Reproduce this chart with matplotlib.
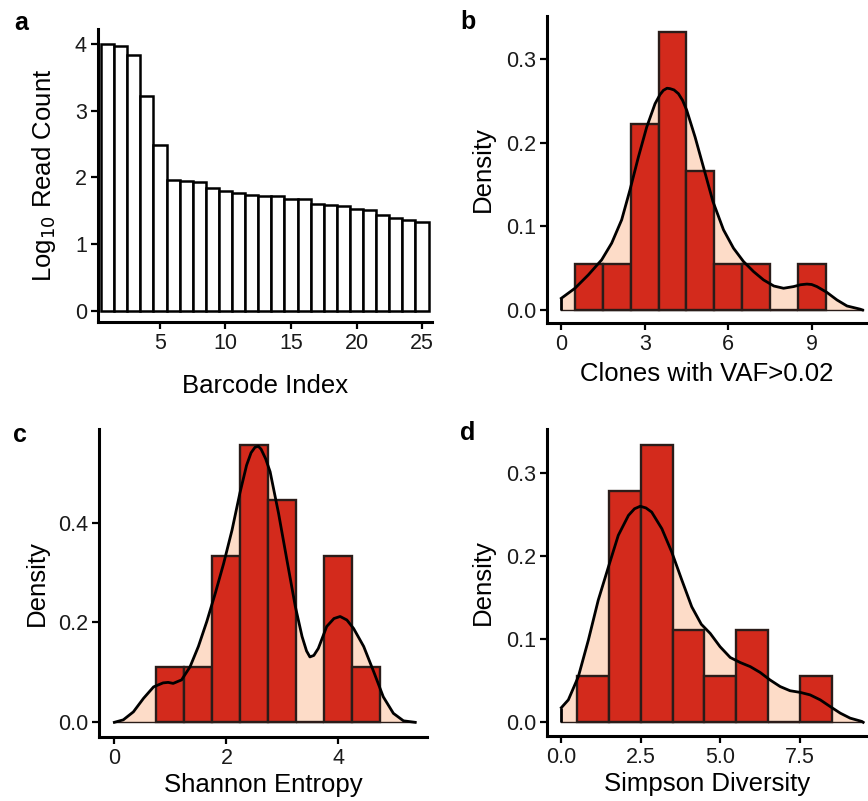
import numpy as np
import matplotlib
matplotlib.use("Agg")
import matplotlib.pyplot as plt

plt.rcParams['font.family'] = ['Liberation Sans', 'DejaVu Sans']

# ---------------- data ----------------
# panel a
barcode_index = list(range(1, 26))
log10_reads = [4.00, 3.975, 3.845, 3.22, 2.49, 1.965, 1.94, 1.93, 1.835, 1.795,
               1.77, 1.74, 1.725, 1.725, 1.68, 1.68, 1.596, 1.58, 1.57, 1.53,
               1.516, 1.44, 1.39, 1.357, 1.33]

# panel b: histogram (binwidth 1) counts and density curve
b_bin_centers = [1, 2, 3, 4, 5, 6, 7, 8, 9]
b_counts = [1, 1, 4, 6, 3, 1, 1, 0, 1]
b_kde_x = [0.0, 0.49, 0.97, 1.45, 1.81, 2.17, 2.47, 2.77, 3.07, 3.37, 3.55, 3.67,
           3.80, 3.91, 4.05, 4.21, 4.36, 4.51, 4.81, 5.11, 5.45, 5.83, 6.19,
           6.55, 6.91, 7.27, 7.64, 7.99, 8.35, 8.6, 8.83, 9.0, 9.19, 9.55, 9.91,
           10.27, 10.74, 10.83]
b_kde_y = [0.014, 0.026, 0.042, 0.060, 0.080, 0.108, 0.144, 0.183, 0.219, 0.247,
           0.258, 0.263, 0.2655, 0.265, 0.2635, 0.259, 0.251, 0.239, 0.207,
           0.171, 0.130, 0.096, 0.074, 0.058, 0.046, 0.036, 0.0287, 0.026, 0.028,
           0.0302, 0.031, 0.0305, 0.028, 0.021, 0.012, 0.0048, 0.001, 0.0]

# panel c: histogram (binwidth 0.5)
c_bin_centers = [1.0, 1.5, 2.0, 2.5, 3.0, 3.5, 4.0, 4.5]
c_counts = [1, 1, 3, 5, 4, 0, 3, 1]
c_kde_x = [0.0, 0.16, 0.34, 0.52, 0.70, 0.87, 0.96, 1.05, 1.20, 1.35, 1.50, 1.65,
           1.80, 1.95, 2.10, 2.24, 2.36, 2.44, 2.51, 2.57, 2.62, 2.70, 2.78, 2.93,
           3.08, 3.23, 3.35, 3.43, 3.49, 3.56, 3.64, 3.79, 3.92, 4.03, 4.15,
           4.27, 4.45, 4.63, 4.80, 4.98, 5.16, 5.37]
c_kde_y = [0.0, 0.005, 0.021, 0.048, 0.071, 0.079, 0.080, 0.078, 0.085, 0.111,
           0.152, 0.202, 0.258, 0.318, 0.385, 0.459, 0.515, 0.540, 0.551, 0.553,
           0.547, 0.528, 0.502, 0.419, 0.325, 0.232, 0.172, 0.143, 0.131, 0.134,
           0.148, 0.192, 0.208, 0.212, 0.205, 0.188, 0.152, 0.101, 0.051, 0.018,
           0.003, 0.0]

# panel d: histogram (binwidth 1)
d_bin_centers = [1, 2, 3, 4, 5, 6, 7, 8]
d_counts = [1, 5, 6, 2, 1, 2, 0, 1]
d_kde_x = [0.0, 0.22, 0.535, 0.85, 1.16, 1.48, 1.79, 2.11, 2.30, 2.48, 2.66, 2.84,
           3.16, 3.47, 3.79, 4.10, 4.40, 4.68, 4.99, 5.31, 5.62, 5.94, 6.25,
           6.56, 6.88, 7.19, 7.51, 7.82, 8.14, 8.45, 8.77, 9.08, 9.45, 9.49]
d_kde_y = [0.0176, 0.027, 0.055, 0.099, 0.147, 0.187, 0.225, 0.249, 0.257, 0.260,
           0.258, 0.253, 0.233, 0.205, 0.171, 0.139, 0.118, 0.107, 0.091, 0.078,
           0.072, 0.067, 0.060, 0.051, 0.043, 0.038, 0.036, 0.033, 0.027, 0.019,
           0.011, 0.005, 0.001, 0.0]

# ---------------- style ----------------
RED = '#D32A1C'
PEACH = '#FDDCC8'
EDGE = '#2a1c19'
W, H = 868, 801
TICK_FS = 15.5
LAB_FS = 18.5

fig = plt.figure(figsize=(W / 100, H / 100), dpi=100)


def make_ax(left, right, top, bottom):
    return fig.add_axes([left / W, 1 - bottom / H, (right - left) / W, (bottom - top) / H])


def style(ax):
    for s in ['top', 'right']:
        ax.spines[s].set_visible(False)
    for s in ['left', 'bottom']:
        ax.spines[s].set_linewidth(2.2)
        ax.spines[s].set_color('black')
    ax.tick_params(axis='both', length=5, width=1.6, labelsize=TICK_FS,
                   colors='black', labelcolor='#1a1a1a', pad=3)
    ax.set_facecolor('white')


# panel a
axa = make_ax(98, 432, 29, 322)
axa.bar(barcode_index, log10_reads, width=1.0, facecolor='white',
        edgecolor='black', linewidth=1.8, zorder=2)
axa.set_xlim(0.27, 25.76)
axa.set_ylim(-0.17, 4.23)
axa.set_xticks([5, 10, 15, 20, 25])
axa.set_yticks([0, 1, 2, 3, 4])
style(axa)
axa.set_xlabel('Barcode Index', fontsize=LAB_FS, labelpad=14)
axa.set_ylabel('Log$_{10}$ Read Count', fontsize=LAB_FS, labelpad=12)


def hist_panel(ax, centers, counts, bw, kx, ky):
    edges = [c - bw / 2 for c in centers] + [centers[-1] + bw / 2]
    ax.fill_between(kx, ky, 0, color=PEACH, linewidth=0, zorder=1)
    ax.plot([kx[0], kx[0]], [0, ky[0]], color='black', lw=2.0, zorder=4,
            solid_capstyle='butt')
    ax.hist(centers, bins=edges, weights=counts, density=True,
            facecolor=RED, edgecolor=EDGE, linewidth=1.7, zorder=2)
    ax.plot(kx, ky, color='black', lw=2.0, zorder=4, solid_joinstyle='round')
    ax.plot([kx[0], kx[-1]], [0, 0], color=EDGE, lw=1.0, zorder=3)


# panel b
axb = make_ax(547, 867, 16, 323)
hist_panel(axb, b_bin_centers, b_counts, 1.0, b_kde_x, b_kde_y)
axb.set_xlim(-0.515, 10.99)
axb.set_ylim(-0.0156, 0.352)
axb.set_xticks([0, 3, 6, 9])
axb.set_yticks([0.0, 0.1, 0.2, 0.3])
axb.set_yticklabels(['0.0', '0.1', '0.2', '0.3'])
style(axb)
axb.set_xlabel('Clones with VAF>0.02', fontsize=LAB_FS, labelpad=5)
axb.set_ylabel('Density', fontsize=LAB_FS, labelpad=8)

# panel c
axc = make_ax(99, 427, 429, 737)
hist_panel(axc, c_bin_centers, c_counts, 0.5, c_kde_x, c_kde_y)
axc.set_xlim(-0.274, 5.58)
axc.set_ylim(-0.0294, 0.5876)
axc.set_xticks([0, 2, 4])
axc.set_yticks([0.0, 0.2, 0.4])
axc.set_yticklabels(['0.0', '0.2', '0.4'])
style(axc)
axc.set_xlabel('Shannon Entropy', fontsize=LAB_FS, labelpad=3)
axc.set_ylabel('Density', fontsize=LAB_FS, labelpad=6)

# panel d
axd = make_ax(547, 867, 429, 736)
hist_panel(axd, d_bin_centers, d_counts, 1.0, d_kde_x, d_kde_y)
axd.set_xlim(-0.451, 9.61)
axd.set_ylim(-0.0165, 0.353)
axd.set_xticks([0.0, 2.5, 5.0, 7.5])
axd.set_xticklabels(['0.0', '2.5', '5.0', '7.5'])
axd.set_yticks([0.0, 0.1, 0.2, 0.3])
axd.set_yticklabels(['0.0', '0.1', '0.2', '0.3'])
style(axd)
axd.set_xlabel('Simpson Diversity', fontsize=LAB_FS, labelpad=3)
axd.set_ylabel('Density', fontsize=LAB_FS, labelpad=8)

# panel letters
for lab, (px, py) in {'a': (21, 23), 'b': (468, 22), 'c': (20, 435), 'd': (468, 433)}.items():
    fig.text(px / W, 1 - py / H, lab, fontsize=18, fontweight='bold',
             ha='center', va='center')

fig.savefig('out.png', dpi=100, facecolor='white')
